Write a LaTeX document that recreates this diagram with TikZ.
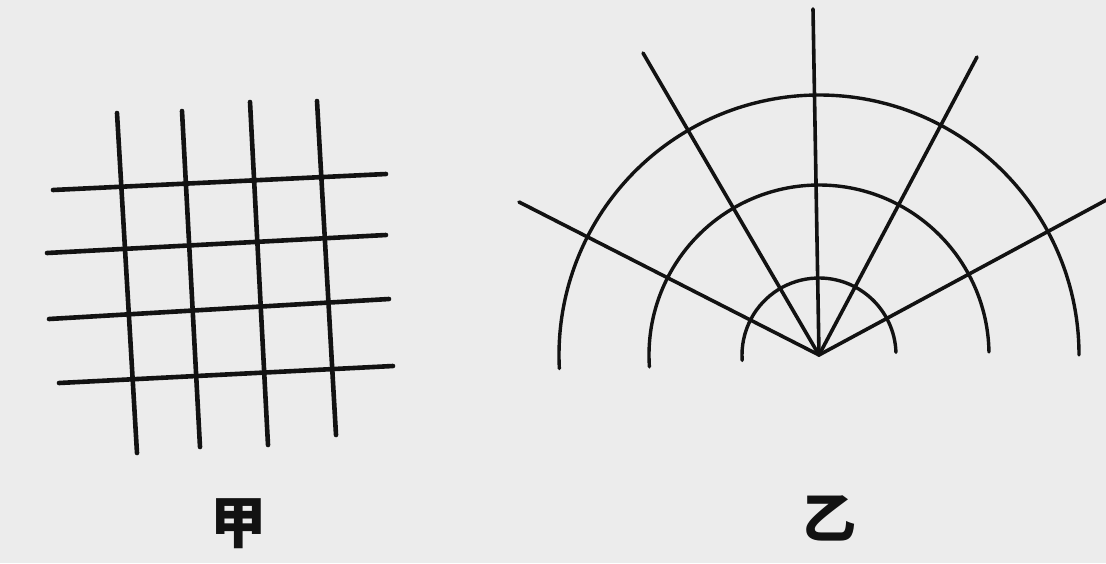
\documentclass[tikz,border=0pt]{standalone}
\usepackage{fontspec}
\newfontfamily\cjk{Noto Sans CJK SC}
\definecolor{paper}{RGB}{236,236,236}
\definecolor{ink}{RGB}{18,18,18}
\begin{document}
\begin{tikzpicture}[x=1pt,y=-1pt,
  gridline/.style={draw=ink,line width=4.6pt,line cap=round},
  fanline/.style={draw=ink,line width=3.6pt,line cap=round},
  arcline/.style={draw=ink,line width=3.4pt,line cap=round},
  caption/.style={text=ink, inner sep=0pt}]
\fill[paper] (0,0) rectangle (1106,563);
\useasboundingbox (0,0) rectangle (1106,563);
% ---- grid (jia) ----
\coordinate (v1a) at (117,113); \coordinate (v1b) at (137,453);
\coordinate (v2a) at (182,111); \coordinate (v2b) at (200,447);
\coordinate (v3a) at (250,102); \coordinate (v3b) at (268,445);
\coordinate (v4a) at (317,101); \coordinate (v4b) at (336,435);
\coordinate (h1a) at (53,190);  \coordinate (h1b) at (386,174);
\coordinate (h2a) at (47,253);  \coordinate (h2b) at (386,235);
\coordinate (h3a) at (49,319);  \coordinate (h3b) at (389,299);
\coordinate (h4a) at (59,383);  \coordinate (h4b) at (393,366);
\foreach \i in {1,2,3,4} {
  \draw[gridline] (v\i a) -- (v\i b);
  \draw[gridline] (h\i a) -- (h\i b);
}
% ---- fan (yi) ----
\coordinate (O) at (819,355);
\coordinate (r1) at (519,202);
\coordinate (r2) at (643,53);
\coordinate (r3) at (813,9);
\coordinate (r4) at (977,57);
\coordinate (r5) at (1110,198);
\foreach \r in {r1,r2,r3,r4,r5} { \draw[fanline] (O) -- (\r); }
\draw[arcline] (O) ++(0:260) arc[start angle=0,end angle=-183,radius=260];
\draw[arcline] (O) ++(-1:170) arc[start angle=-1,end angle=-184,radius=170];
\draw[arcline] (O) ++(-2:77) arc[start angle=-2,end angle=-184,radius=77];
% ---- captions ----
\node[caption,font=\cjk\bfseries\fontsize{56}{56}\selectfont] (jia) at (238,524) {甲};
\node[caption,font=\cjk\bfseries\fontsize{54}{54}\selectfont] (yi) at (829,518) {乙};
\end{tikzpicture}
\end{document}
